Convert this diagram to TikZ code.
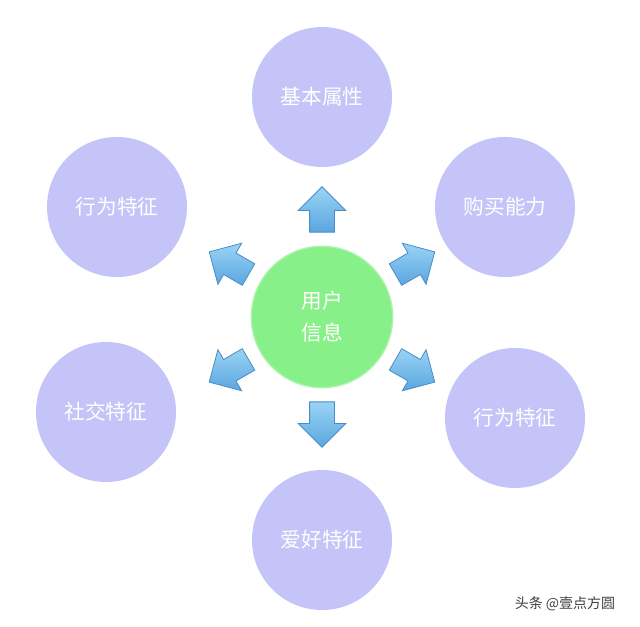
\documentclass[tikz,border=0pt]{standalone}
\usepackage{fontspec}
\newfontfamily\cjk{Noto Sans CJK SC}
\usetikzlibrary{shapes.arrows,calc}
\definecolor{lav}{HTML}{C4C4F8}
\definecolor{lgreen}{HTML}{88F088}
\definecolor{arrtop}{HTML}{9AD4F4}
\definecolor{arrbot}{HTML}{5AA6E0}
\definecolor{arrline}{HTML}{4A8CC4}
\tikzset{
  topic/.style={circle,fill=lav,minimum size=105pt,inner sep=0pt,text=white,font=\cjk\fontsize{15.5}{18}\selectfont},
  hub/.style={circle,fill=lgreen,draw=lgreen!70!white,line width=1pt,minimum size=106pt,inner sep=0pt,text=white,align=center,font=\cjk\fontsize{15.5}{24}\selectfont},
  blockarrow/.style={single arrow,minimum height=34pt,inner xsep=0pt,inner ysep=9pt,single arrow head extend=8.5pt,
    top color=arrtop,bottom color=arrbot,draw=arrline,line width=0.6pt}
}
\begin{document}
\begin{tikzpicture}[x=0.75pt,y=-0.75pt]
\useasboundingbox[fill=white] (0,0) rectangle (640,627);
\node[hub] (c) at (322,317) {用户\\信息};
\node[topic] (t1) at (322,97) {基本属性};
\node[topic] (t2) at (505,207) {购买能力};
\node[topic] (t3) at (515,418) {行为特征};
\node[topic] (t4) at (322,540) {爱好特征};
\node[topic] (t5) at (106,412) {社交特征};
\node[topic] (t6) at (117,207) {行为特征};
\foreach \ang/\nm in {90/a1,30/a2,-30/a3,-90/a4,-150/a5,150/a6}
  \node[blockarrow,rotate=\ang] (\nm) at ($(c)+(\ang:76pt)$) {};
\node[font=\cjk\fontsize{10.5}{12}\selectfont,text=black!75] (wm) at (565,604) {头条 @壹点方圆};
\end{tikzpicture}
\end{document}
